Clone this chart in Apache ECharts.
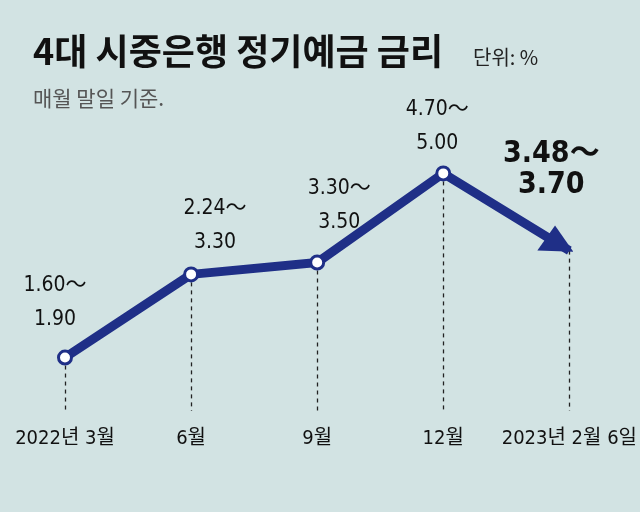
<!DOCTYPE html>
<html>
<head>
<meta charset="utf-8">
<script src="https://cdn.jsdelivr.net/npm/echarts@6/dist/echarts.min.js"></script>
</head>
<body style="margin:0">
<div id="main" style="width:640px;height:512px"></div>
<script>
var categories = ['2022년 3월', '6월', '9월', '12월', '2023년 2월 6일'];
var rateMax = [1.90, 3.30, 3.50, 5.00, 3.70];
var rateLabels = ['1.60～\n1.90', '2.24～\n3.30', '3.30～\n3.50', '4.70～\n5.00', '3.48～\n3.70'];

var font = '"DejaVu Sans Condensed", "Noto Sans CJK KR", sans-serif';
var navy = '#1f2f87';
var offsets = [[-10, -8], [24, -2], [22, -10], [-6, 0], [-4, -20]];
// arrow head pointing down-right, along the last segment
var arrowPath = 'path://M34,29 L0,27.5 L16.7,0 Z';

var chart = echarts.init(document.getElementById('main'));

var data = rateMax.map(function (v, i) {
    var last = i === rateMax.length - 1;
    return {
        value: v,
        symbol: last ? arrowPath : 'circle',
        symbolSize: last ? [36, 31] : 13,
        symbolOffset: last ? [-14, -12] : 0,
        symbolKeepAspect: true,
        itemStyle: last ? { color: navy, borderWidth: 0 } : {},
        label: {
            show: true,
            position: 'top',
            offset: offsets[i],
            formatter: rateLabels[i],
            fontSize: last ? 30 : 21,
            fontWeight: last ? 'bold' : 'normal',
            lineHeight: last ? 31 : 34,
            color: '#111',
            fontFamily: font
        }
    };
});

var dashLines = rateMax.map(function (v, i) {
    return [{ coord: [i, v] }, { coord: [i, 1] }];
});

chart.setOption({
    backgroundColor: '#d2e3e3',
    animation: false,
    title: [{
        text: '4대 시중은행 정기예금 금리',
        left: 28, top: 28,
        textStyle: { fontSize: 36, fontWeight: 'bold', color: '#111', fontFamily: '"Noto Sans CJK KR"' }
    }, {
        text: '단위: %',
        left: 468, top: 42,
        textStyle: { fontSize: 20, fontWeight: 'normal', color: '#222', fontFamily: '"Noto Sans CJK KR"' }
    }, {
        text: '매월 말일 기준.',
        left: 28, top: 83,
        textStyle: { fontSize: 21, fontWeight: 'normal', color: '#555', fontFamily: '"Noto Sans CJK KR"' }
    }],
    grid: { left: 65, right: 70, top: 114, bottom: 101 },
    xAxis: {
        type: 'category',
        data: categories,
        boundaryGap: false,
        axisLine: { show: false },
        axisTick: { show: false },
        axisLabel: { margin: 18, fontSize: 20, color: '#111', fontFamily: font, interval: 0 }
    },
    yAxis: {
        type: 'value', min: 1, max: 6,
        show: false,
        splitLine: { show: false }
    },
    series: [{
        type: 'line',
        data: data,
        z: 5,
        lineStyle: { color: navy, width: 9 },
        itemStyle: { color: '#fff', borderColor: navy, borderWidth: 3 },
        markLine: {
            silent: true,
            symbol: 'none',
            label: { show: false },
            lineStyle: { color: '#222', type: [4, 4], width: 1.3 },
            data: dashLines
        }
    }]
});
</script>
</body>
</html>
